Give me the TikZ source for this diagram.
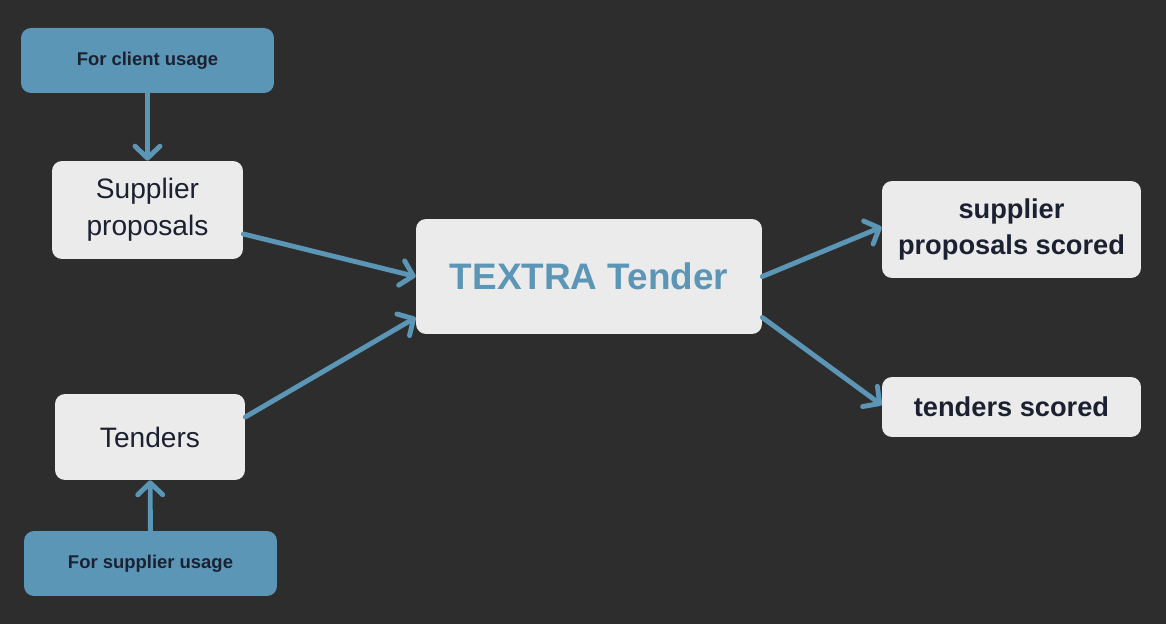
\documentclass[tikz,border=0pt]{standalone}
\usepackage{fontspec}
\setmainfont{Liberation Sans}
\usetikzlibrary{arrows.meta, positioning}
\definecolor{bgdark}{HTML}{2D2D2D}
\definecolor{boxgrey}{HTML}{EBEBEB}
\definecolor{tealblue}{HTML}{5B96B6}
\definecolor{inkdark}{HTML}{1B2130}

\begin{document}
\begin{tikzpicture}[
  x=0.02cm, y=-0.02cm,
  usage/.style={rectangle, rounded corners=0.2cm, fill=tealblue, minimum width=5.06cm, minimum height=1.3cm, align=center, text=inkdark, font=\fontsize{10.5}{12}\selectfont\bfseries},
  source/.style={rectangle, rounded corners=0.2cm, fill=boxgrey, align=center, text=inkdark, font=\fontsize{16}{21}\selectfont},
  result/.style={rectangle, rounded corners=0.2cm, fill=boxgrey, minimum width=5.18cm, align=center, text=inkdark, font=\fontsize{15.5}{20.5}\selectfont\bfseries},
  flow/.style={-{Straight Barb[round, length=2.4mm, width=5mm]}, line width=2.8pt, line cap=round, draw=tealblue}
]
  \fill[bgdark] (0,0) rectangle (1166,624);

  % inputs
  \node[usage] (client) at (147.5,60.5) {For client usage};
  \node[source, minimum width=3.82cm, minimum height=1.96cm] (proposals) at (147.5,210) {Supplier\\proposals};
  \node[source, minimum width=3.8cm, minimum height=1.72cm] (tenders) at (150,437) {Tenders};
  \node[usage] (supplier) at (150.5,563.5) {For supplier usage};

  % core
  \node[rectangle, rounded corners=0.2cm, fill=boxgrey, minimum width=6.92cm, minimum height=2.3cm, text=tealblue, font=\fontsize{21}{25}\selectfont\bfseries] (textra) at (589,276.5) {TEXTRA Tender};

  % outputs
  \node[result, minimum height=1.94cm] (propscored) at (1011.5,229.5) {supplier\\proposals scored};
  \node[result, minimum height=1.2cm] (tendscored) at (1011.5,407) {tenders scored};

  % Arrows
  \draw[flow] (client) -- (proposals);
  \draw[flow] (supplier) -- (tenders);
  \draw[flow] ([yshift=-0.48cm]proposals.east) -- ([yshift=0cm]textra.west);
  \draw[flow] ([yshift=0.4cm]tenders.east) -- ([yshift=-0.82cm]textra.west);
  \draw[flow] ([yshift=0cm]textra.east) -- ([yshift=0.05cm]propscored.west);
  \draw[flow] ([yshift=-0.82cm]textra.east) -- ([yshift=0.04cm]tendscored.west);
\end{tikzpicture}
\end{document}
